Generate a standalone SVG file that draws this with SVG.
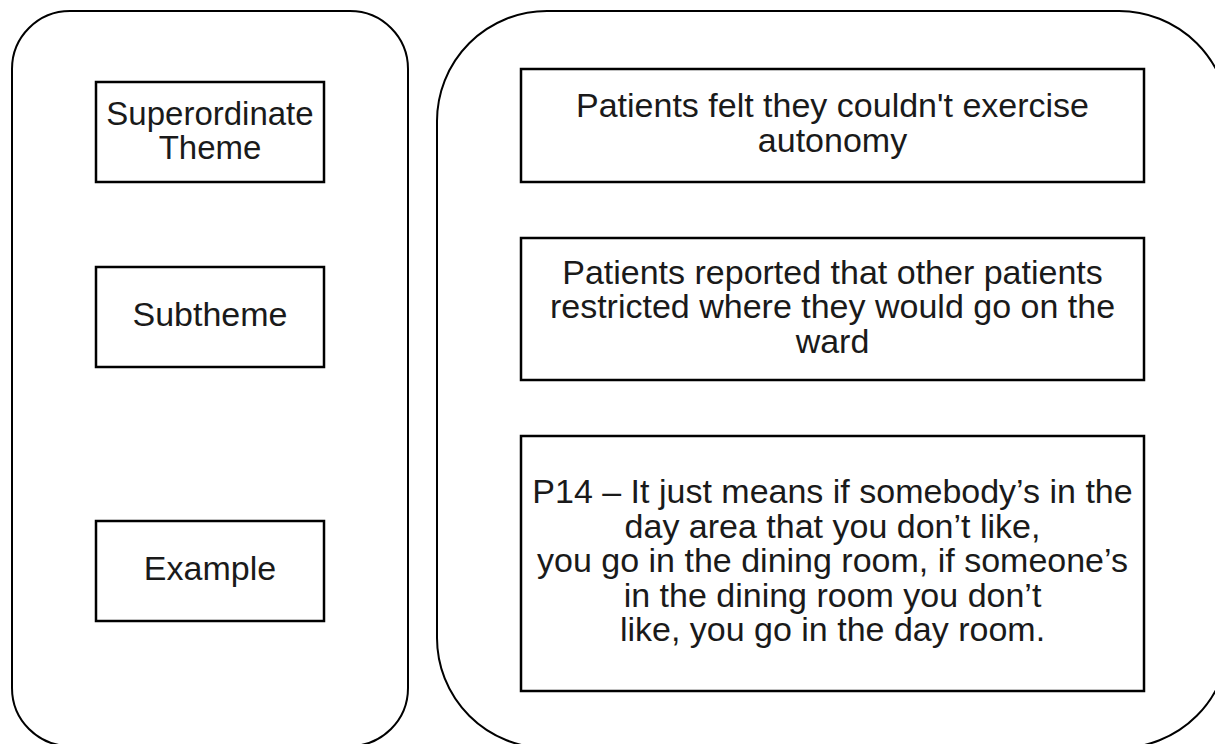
<svg xmlns="http://www.w3.org/2000/svg" width="1215" height="744" viewBox="0 0 1215 744">
<style>
.frame{fill:#fff;stroke:#000;stroke-width:2}
.box{fill:#fff;stroke:#000;stroke-width:2.5}
.t{font-family:"Liberation Sans",Arial,sans-serif;font-size:34px;fill:#1a1a1a;text-anchor:middle}
.s{font-size:33px}
</style>
<rect width="1215" height="744" fill="#fff"/>
<g id="left-panel">
<rect class="frame" x="12" y="11" width="396" height="735" rx="58" ry="58"/>
</g>
<g id="right-panel">
<rect class="frame" x="437" y="11" width="792" height="737" rx="110" ry="110"/>
</g>
<g id="superordinate-label">
<rect class="box" x="96" y="82" width="228" height="100"/>
<text class="t s" y="125"><tspan x="210">Superordinate</tspan><tspan x="210" dy="34">Theme</tspan></text>
</g>
<g id="subtheme-label">
<rect class="box" x="96" y="267" width="228" height="100"/>
<text class="t" x="210" y="326">Subtheme</text>
</g>
<g id="example-label">
<rect class="box" x="96" y="521" width="228" height="100"/>
<text class="t" x="210" y="580">Example</text>
</g>
<g id="superordinate-theme">
<rect class="box" x="521" y="69" width="623" height="113"/>
<text class="t" y="117"><tspan x="832.5">Patients felt they couldn't exercise</tspan><tspan x="832.5" dy="34.5">autonomy</tspan></text>
</g>
<g id="subtheme">
<rect class="box" x="521" y="238" width="623" height="142"/>
<text class="t" y="283.5"><tspan x="832.5">Patients reported that other patients</tspan><tspan x="832.5" dy="34.5">restricted where they would go on the</tspan><tspan x="832.5" dy="34.5">ward</tspan></text>
</g>
<g id="example">
<rect class="box" x="521" y="436" width="623" height="255"/>
<text class="t" y="503"><tspan x="832.5">P14 – It just means if somebody’s in the</tspan><tspan x="832.5" dy="34.5">day area that you don’t like,</tspan><tspan x="832.5" dy="34.5">you go in the dining room, if someone’s</tspan><tspan x="832.5" dy="34.5">in the dining room you don’t</tspan><tspan x="832.5" dy="34.5">like, you go in the day room.</tspan></text>
</g>
<g id="connectors"></g>
</svg>
